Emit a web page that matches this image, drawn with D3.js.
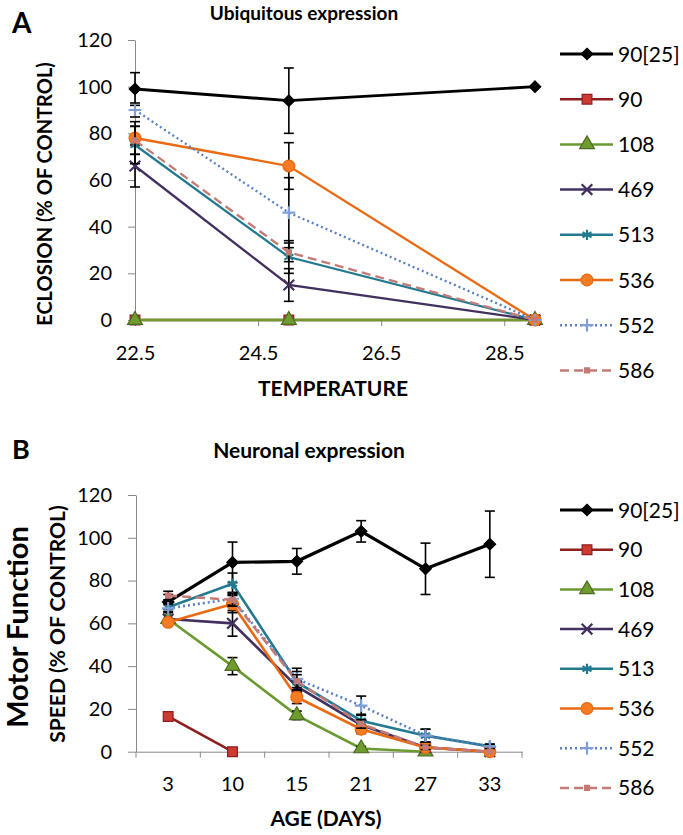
<!DOCTYPE html>
<html>
<head>
<meta charset="utf-8">
<script src="https://cdn.jsdelivr.net/npm/d3@7"></script>
<style>
  body { margin: 0; background: #fff; }
  svg text { font-family: Lato, "Open Sans", sans-serif; fill: #000; }
</style>
</head>
<body>
<svg id="chart" width="683" height="835"></svg>
<script>
// ---- data ----
const seriesNames = ["90[25]", "90", "108", "469", "513", "536", "552", "586"];

// panel A: eclosion vs temperature
const temperatures = [22.5, 25, 29];
const tempTicks = [22.5, 24.5, 26.5, 28.5];
const eclosionValues = [
  [99, 94, 100],
  [0, 0, 0],
  [0, 0, 0],
  [66, 15, 0],
  [75, 27, 0],
  [78, 66, 0],
  [90, 46, 0],
  [77, 29, 0]
];
const eclosionErrors = [
  [7, 14, 0],
  [0, 0, 0],
  [0, 0, 0],
  [9, 7, 0],
  [8, 7, 0],
  [7, 10, 0],
  [3, 15, 0],
  [6, 4, 0]
];

// panel B: speed vs age
const ages = ["3", "10", "15", "21", "27", "33"];
const speedValues = [
  [70, 88.5, 89, 103, 85.5, 97],
  [16.5, 0, null, null, null, null],
  [62, 40, 17, 1.5, 0, null],
  [62, 60, 30.5, 12.5, 2, 0],
  [67.5, 78.5, 32.5, 14.5, 7.5, 2.5],
  [60.5, 69, 25.5, 10.5, 2, 0],
  [67, 71.5, 34, 21.5, 7.5, 2.5],
  [73, 71, 33, 13, 2, 0]
];
const speedErrors = [
  [3.5, 9.5, 6, 5, 12, 15.5],
  [0, 0, null, null, null, null],
  [0, 4, 2, 1, 0, null],
  [0, 6, 3, 2, 1, 0],
  [2, 5, 5, 3, 3, 1],
  [0, 4, 3, 2, 1, 0],
  [2, 3, 5, 4.5, 3, 1],
  [2, 3, 3, 2, 1, 0]
];
const yTicks = [0, 20, 40, 60, 80, 100, 120];

// ---- styles ----
const lineColor = ["#000000", "#8e1f1f", "#6a9a30", "#42305f", "#237a90", "#e86a12", "#5b7fc0", "#c47a76"];
const markFill  = ["#000000", "#cc3a32", "#6f9c2e", "none", "none", "#f57c22", "none", "#c47a76"];
const markEdge  = ["#000000", "#8e1f1f", "#4e6a22", "#42305f", "#237a90", "#e86a12", "#7f9fd6", "#c47a76"];
const markType  = [d3.symbolDiamond2, d3.symbolSquare, d3.symbolTriangle, d3.symbolX, d3.symbolAsterisk, d3.symbolCircle, d3.symbolPlus, d3.symbolSquare];
const markSize  = [85, 95, 95, 75, 75, 110, 55, 25];
const dash      = [null, null, null, null, null, null, "2,3", "9,5"];
const axisGrey = "#8a8a8a";

const svg = d3.select("#chart");

function marker(g, i, x, y) {
  const stroked = markFill[i] === "none";
  g.append("path")
    .attr("transform", `translate(${x},${y})`)
    .attr("d", d3.symbol(markType[i], markSize[i])())
    .attr("fill", markFill[i])
    .attr("stroke", markEdge[i])
    .attr("stroke-width", stroked ? 2.2 : 1.2);
}

function drawSeries(g, xPos, y, values, errors, lw) {
  values.forEach((vals, i) => {
    const pts = vals.map((v, k) => ({x: xPos(k), v: v, e: errors[i][k]})).filter(p => p.v != null);
    const line = d3.line().x(p => p.x).y(p => y(p.v));
    g.append("path")
      .attr("d", line(pts))
      .attr("fill", "none")
      .attr("stroke", lineColor[i])
      .attr("stroke-width", i === 0 ? lw + 0.6 : lw)
      .attr("stroke-dasharray", dash[i]);
    pts.filter(p => p.e > 0).forEach(p => {
      const eb = g.append("g").attr("stroke", "#000").attr("stroke-width", 1.6);
      eb.append("line").attr("x1", p.x).attr("x2", p.x).attr("y1", y(p.v - p.e)).attr("y2", y(p.v + p.e));
      eb.append("line").attr("x1", p.x - 5).attr("x2", p.x + 5).attr("y1", y(p.v - p.e)).attr("y2", y(p.v - p.e));
      eb.append("line").attr("x1", p.x - 5).attr("x2", p.x + 5).attr("y1", y(p.v + p.e)).attr("y2", y(p.v + p.e));
    });
    pts.forEach(p => marker(g, i, p.x, y(p.v)));
  });
}

function drawLegend(top, step) {
  const lg = svg.append("g");
  seriesNames.forEach((name, i) => {
    const cy = top + i * step;
    lg.append("line").attr("x1", 560).attr("x2", 613).attr("y1", cy).attr("y2", cy)
      .attr("stroke", lineColor[i]).attr("stroke-width", i === 0 ? 3 : 2.5)
      .attr("stroke-dasharray", dash[i]);
    marker(lg, i, 587, cy);
    lg.append("text").attr("x", 618).attr("y", cy).attr("dy", "0.36em")
      .attr("font-size", 21).text(name);
  });
}

function styleAxis(g) {
  g.selectAll(".domain, .tick line").attr("stroke", axisGrey);
  g.selectAll("text").attr("font-size", 20).attr("font-family", "Lato, sans-serif").attr("fill", "#000");
}

// ---- panel A ----
const xA = d3.scaleLinear().domain([22.5, 29]).range([135, 535]);
const yA = d3.scaleLinear().domain([0, 120]).range([320, 40]);

svg.append("g").attr("transform", "translate(135,0)")
  .call(d3.axisLeft(yA).tickValues(yTicks).tickSize(7).tickSizeOuter(0).tickPadding(16))
  .call(styleAxis);
svg.append("g").attr("transform", "translate(0,320)")
  .call(d3.axisBottom(xA).tickValues(tempTicks).tickFormat(d3.format(".1f")).tickSize(6).tickSizeOuter(0).tickPadding(20))
  .call(styleAxis);

drawSeries(svg.append("g"), k => xA(temperatures[k]), yA, eclosionValues, eclosionErrors, 2.3);
drawLegend(54, 45.2);

svg.append("text").attr("x", 12).attr("y", 33).attr("font-size", 28).attr("font-weight", 700).text("A");
svg.append("text").attr("x", 304).attr("y", 20).attr("text-anchor", "middle")
  .attr("font-size", 19).attr("font-weight", 700).text("Ubiquitous expression");
svg.append("text").attr("transform", "translate(52,194) rotate(-90)").attr("text-anchor", "middle")
  .attr("font-size", 20).attr("font-weight", 700).text("ECLOSION (% OF CONTROL)");
svg.append("text").attr("x", 333).attr("y", 396).attr("text-anchor", "middle")
  .attr("font-size", 21).attr("font-weight", 700).text("TEMPERATURE");

// ---- panel B ----
const xB = d3.scaleBand().domain(ages).range([136, 522]);
const yB = d3.scaleLinear().domain([0, 120]).range([751.7, 495]);

svg.append("g").attr("transform", "translate(136,0)")
  .call(d3.axisLeft(yB).tickValues(yTicks).tickSize(8).tickSizeOuter(0).tickPadding(16))
  .call(styleAxis);
const xAxisB = svg.append("g").attr("transform", "translate(0,751.7)")
  .call(d3.axisBottom(xB).tickSize(0).tickSizeOuter(0).tickPadding(25))
  .call(styleAxis);
// Excel-style tick marks between categories
xAxisB.selectAll(".between").data(ages.map(a => xB(a)).concat([xB.range()[1]]))
  .join("line").attr("class", "between")
  .attr("x1", d => d).attr("x2", d => d).attr("y1", 0).attr("y2", 6)
  .attr("stroke", axisGrey);

drawSeries(svg.append("g"), k => xB(ages[k]) + xB.bandwidth() / 2, yB, speedValues, speedErrors, 2.6);
drawLegend(510, 39.7);

svg.append("text").attr("x", 12).attr("y", 459).attr("font-size", 27).attr("font-weight", 700).text("B");
svg.append("text").attr("x", 309).attr("y", 458).attr("text-anchor", "middle")
  .attr("font-size", 21).attr("font-weight", 700).text("Neuronal expression");
svg.append("text").attr("transform", "translate(65,624) rotate(-90)").attr("text-anchor", "middle")
  .attr("font-size", 21).attr("font-weight", 700).text("SPEED (% OF CONTROL)");
svg.append("text").attr("transform", "translate(28,627) rotate(-90)").attr("text-anchor", "middle")
  .attr("font-size", 29).attr("font-weight", 700).text("Motor Function");
svg.append("text").attr("x", 326).attr("y", 826).attr("text-anchor", "middle")
  .attr("font-size", 21).attr("font-weight", 700).text("AGE (DAYS)");
</script>
</body>
</html>
